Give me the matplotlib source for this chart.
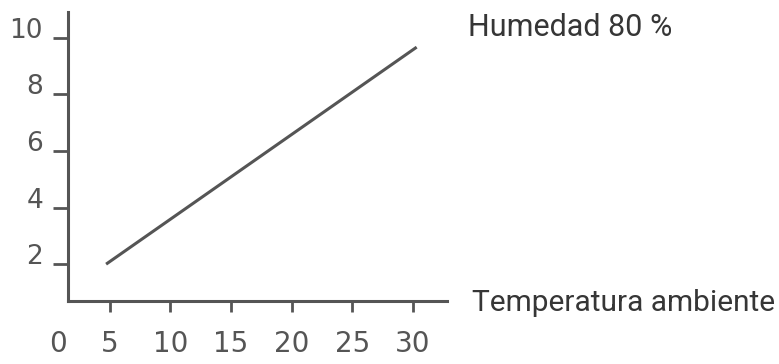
"""
Humidity 80 % line against ambient temperature
"""

import matplotlib
matplotlib.use("Agg")
import matplotlib.pyplot as plt
from matplotlib.transforms import ScaledTranslation

# values
temperature = [4.7, 30.3]
value = [2.0, 9.66]

x_ticks = [5, 10, 15, 20, 25, 30]
x_tick_labels = ["5", "10", "15", "20", "25", "30"]
y_ticks = [2, 4, 6, 8, 10]
y_tick_labels = ["2", "4", "6", "8", "10"]

GREY = "#555555"
TEXT = "#363636"

plt.rcParams["font.family"] = ["DejaVu Sans"]


def main() -> None:
    fig = plt.figure(figsize=(7.79, 3.64), dpi=100)
    W, H = 779, 364

    # axes box in pixels: spine left at 68, bottom at 301, right end 447, top 12
    ax = fig.add_axes([68 / W, (H - 301) / H, (447 - 68) / W, (301 - 12) / H])

    ax.plot(temperature, value, color=GREY, linewidth=2.2, solid_capstyle="butt")

    ax.set_xlim(1.56, 32.8)
    ax.set_ylim(0.70, 10.9)

    for side in ("top", "right"):
        ax.spines[side].set_visible(False)
    for side in ("left", "bottom"):
        ax.spines[side].set_color(GREY)
        ax.spines[side].set_linewidth(2.2)

    ax.set_xticks(x_ticks, x_tick_labels, fontsize=20, color=GREY)
    ax.set_yticks(y_ticks, y_tick_labels, fontsize=19, color=GREY)
    ax.tick_params(axis="x", direction="out", length=8, width=2, color=GREY, pad=13)
    ax.tick_params(axis="y", direction="out", length=11, width=2, color=GREY, pad=7)

    # y labels sit a bit above their tick marks
    up = ScaledTranslation(0, 10 / 100, fig.dpi_scale_trans)
    for lab in ax.get_yticklabels():
        lab.set_transform(lab.get_transform() + up)

    # the lone "0" under the origin, lined up with the other x labels
    fig.canvas.draw()
    top = ax.get_xticklabels()[0].get_window_extent().y1
    fig.text(58 / W, top / H, "0", fontsize=20, color=GREY,
             ha="center", va="top")

    fig.text(468 / W, (H - 28) / H, "Humedad 80 %", fontsize=22,
             family="Roboto", color=TEXT, ha="left", va="center")
    fig.text(472 / W, (H - 303) / H, "Temperatura ambiente", fontsize=21.5,
             family="Roboto", color=TEXT, ha="left", va="center")

    fig.savefig("out.png", dpi=100, facecolor="white")


if __name__ == "__main__":
    main()
